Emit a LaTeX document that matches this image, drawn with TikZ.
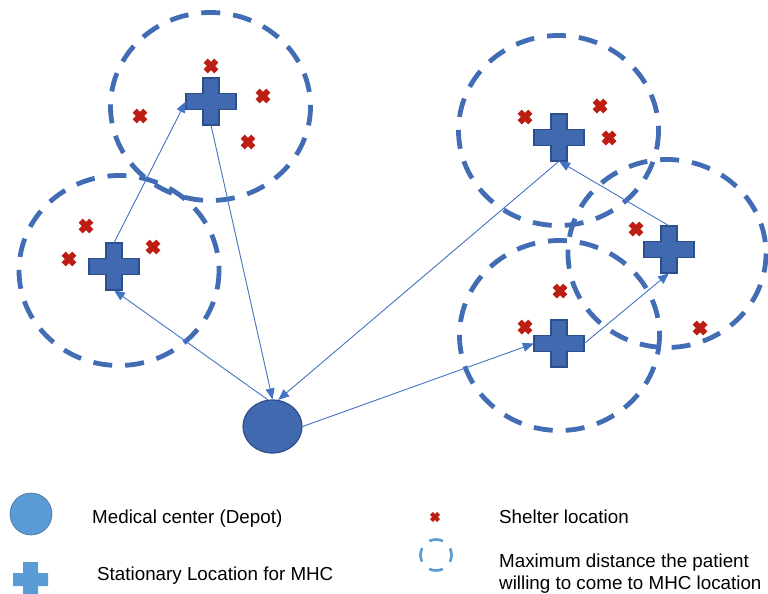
\documentclass[tikz,border=0pt]{standalone}
\usepackage{fontspec}
\setmainfont{Liberation Sans}
\usepackage{xcolor}
\usetikzlibrary{shapes.geometric,arrows.meta}

\definecolor{mhcblue}{RGB}{65,105,175}
\definecolor{mhcedge}{RGB}{44,78,138}
\definecolor{reachblue}{RGB}{66,108,180}
\definecolor{arrowblue}{RGB}{68,114,196}
\definecolor{shelterred}{RGB}{188,30,20}
\definecolor{lightblue}{RGB}{91,155,213}
\definecolor{lightedge}{RGB}{65,113,156}

\tikzset{
  pics/shelter/.style={code={
    \fill[shelterred, rotate=45] (-3,-7.5) -- (3,-7.5) -- (3,-3) -- (7.5,-3) -- (7.5,3) -- (3,3)
      -- (3,7.5) -- (-3,7.5) -- (-3,3) -- (-7.5,3) -- (-7.5,-3) -- (-3,-3) -- cycle;
  }}
}

% MHC site: invisible box for the connectors + the cross on top
\newcommand{\mhcsite}[2]{%
  \node[mhc] (#1) at (#2) {};
  \filldraw[mhcshape, shift={(#1.center)}] (-8,-23.5) -- (8,-23.5) -- (8,-8) -- (25,-8) -- (25,8)
    -- (8,8) -- (8,23.5) -- (-8,23.5) -- (-8,8) -- (-25,8) -- (-25,-8) -- (-8,-8) -- cycle;
}

\begin{document}
\begin{tikzpicture}[
  x=1pt, y=-1pt,
  reach/.style={draw=reachblue, line width=4.8pt, dash pattern=on 19pt off 13pt},
  mhc/.style={minimum width=50pt, minimum height=47pt, inner sep=0pt},
  mhcshape/.style={fill=mhcblue, draw=mhcedge, line width=1.2pt},
  depot/.style={ellipse, minimum width=59pt, minimum height=53pt, inner sep=0pt,
                fill=mhcblue, draw=mhcedge, line width=1.2pt},
  arr/.style={-{Triangle[length=11pt,width=9pt]}, line width=0.9pt, draw=arrowblue},
  lgtext/.style={font=\fontsize{18.8}{22}\selectfont, inner sep=0pt, align=left}
]
\useasboundingbox (0,0) rectangle (768,594);

% service areas
\draw[reach] (210.5,106.5) ellipse [x radius=100, y radius=94];
\draw[reach] (119,270.5) ellipse [x radius=100, y radius=95];
\draw[reach] (558.5,130.5) ellipse [x radius=100, y radius=95];
\draw[reach] (667,253.5) ellipse [x radius=99, y radius=94];
\draw[reach] (559.5,335.5) ellipse [x radius=100, y radius=95];

% shelters
\pic at (211,66) {shelter};
\pic at (263,96) {shelter};
\pic at (140,116) {shelter};
\pic at (248,142) {shelter};
\pic at (86,226) {shelter};
\pic at (153,247) {shelter};
\pic at (69,259) {shelter};
\pic at (525,117) {shelter};
\pic at (600,106) {shelter};
\pic at (609,138) {shelter};
\pic at (636,229) {shelter};
\pic at (560,291) {shelter};
\pic at (525,327) {shelter};
\pic at (700,328) {shelter};

% depot and MHC locations
\node[depot] (dep) at (272.5,426.5) {};
\mhcsite{p1}{211,101.5}
\mhcsite{p2}{114,266.5}
\mhcsite{p3}{559,137.5}
\mhcsite{p4}{669,249.5}
\mhcsite{p5}{559,343.5}

% routes
\draw[arr] (dep.100) -- (p2.south);
\draw[arr] (p2.north) -- (p1.west);
\draw[arr] (p1.south) -- (dep.north);
\draw[arr] (dep.east) -- (p5.west);
\draw[arr] (p5.east) -- (p4.south);
\draw[arr] (p4.north) -- (p3.south);
\draw[arr] (p3.south) -- (dep.78);

% legend
\node[circle, minimum size=42pt, inner sep=0pt, fill=lightblue, draw=lightedge, line width=0.6pt] (lgdep) at (31,514) {};
\node[lgtext, anchor=base west] (lgdeptxt) at (92,523) {Medical center (Depot)};
\node[minimum size=35pt, inner sep=0pt] (lgmhc) at (30.5,579.5) {};
\fill[lightblue, shift={(lgmhc.center)}] (-7.5,-17.5) -- (7.5,-17.5) -- (7.5,-6.5) -- (17.5,-6.5) -- (17.5,6.5)
  -- (7.5,6.5) -- (7.5,17.5) -- (-7.5,17.5) -- (-7.5,6.5) -- (-17.5,6.5) -- (-17.5,-6.5) -- (-7.5,-6.5) -- cycle;
\node[lgtext, anchor=base west] (lgmhctxt) at (97,580) {Stationary Location for MHC};
\pic[scale=0.68] at (435,517) {shelter};
\node[lgtext, anchor=base west] (lgsheltxt) at (499,523) {Shelter location};
\draw[draw=lightblue, line width=2.6pt, dash pattern=on 14pt off 10.35pt, dash phase=7pt] (436,555) circle [radius=15.5];
\node[lgtext, anchor=north west] (lgreachtxt) at (499,554) {Maximum distance the patient\\willing to come to MHC location};
\end{tikzpicture}
\end{document}
